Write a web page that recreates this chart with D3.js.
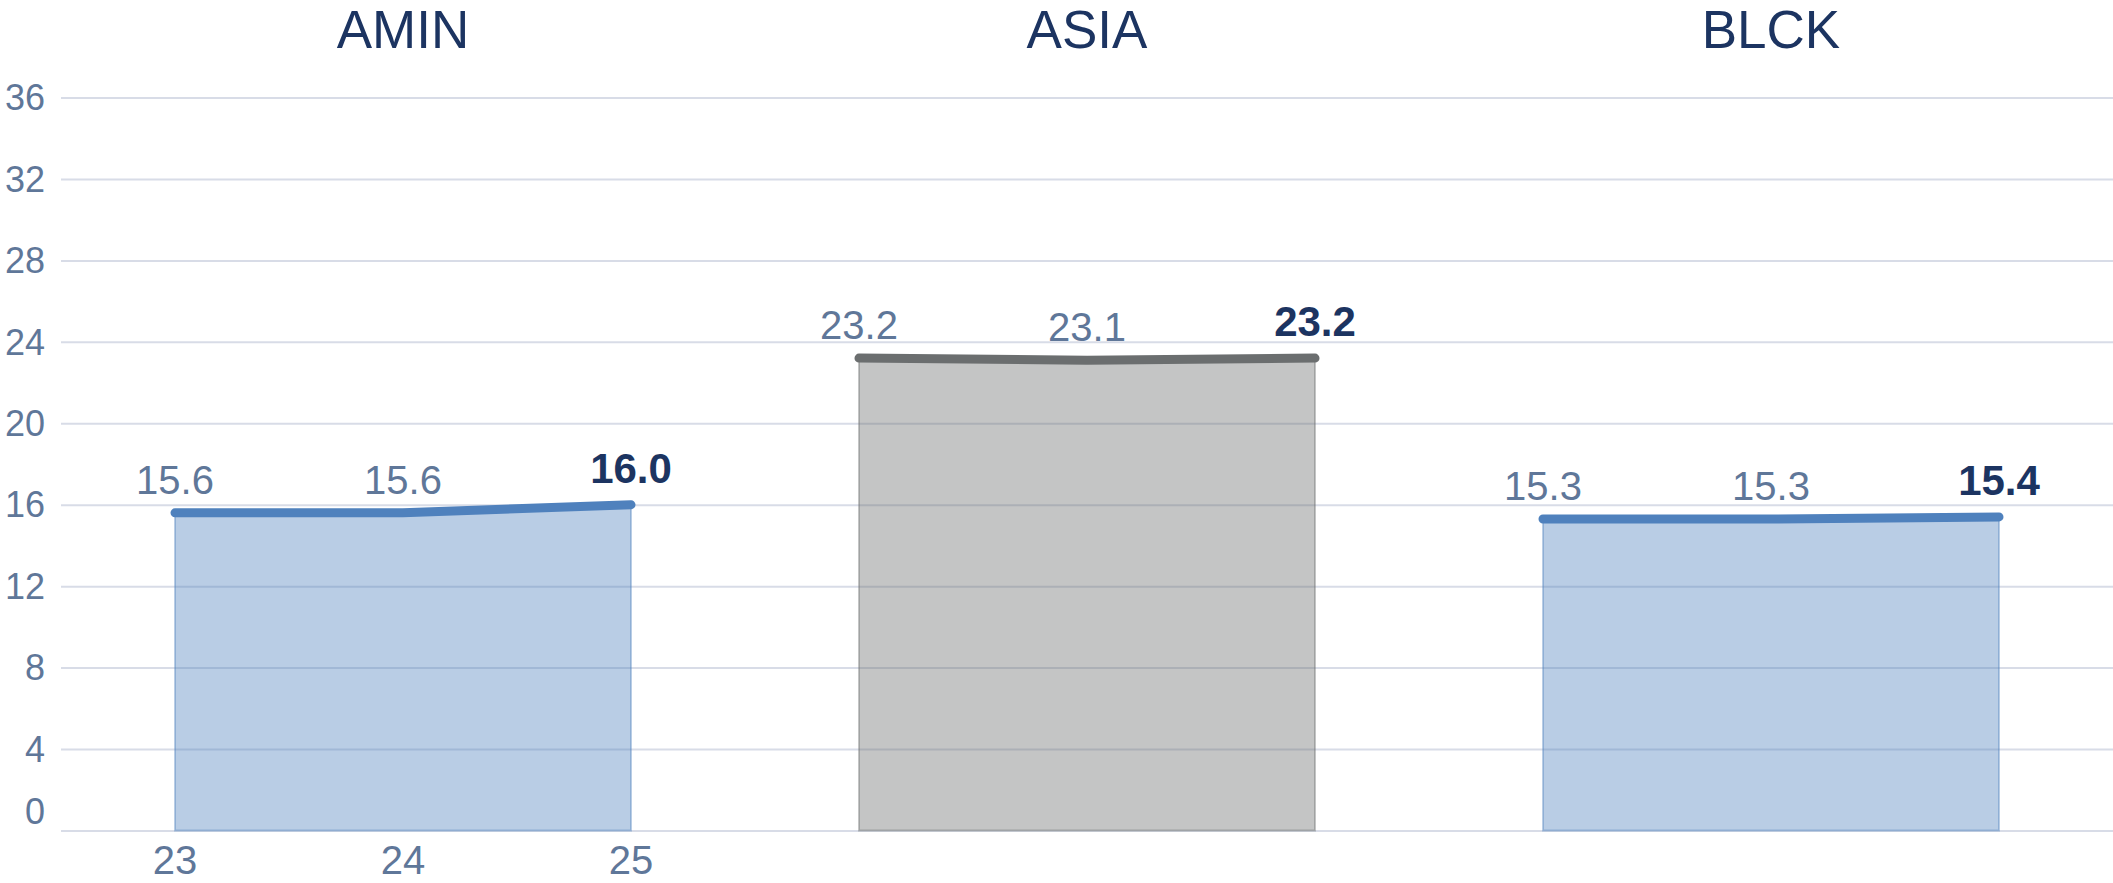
<!DOCTYPE html>
<html>
<head>
<meta charset="utf-8">
<script src="https://cdn.jsdelivr.net/npm/d3@7"></script>
<style>
  body{margin:0;background:#fff;}
  text{font-family:"Liberation Sans", Arial, sans-serif;}
</style>
</head>
<body>
<svg id="main"></svg>
<script>
//--------data----------
const panels = ['AMIN', 'ASIA', 'BLCK'];
const years = ['23', '24', '25'];
const aminValues = [15.6, 15.6, 16.0];
const asiaValues = [23.2, 23.1, 23.2];
const blckValues = [15.3, 15.3, 15.4];
const yTicks = [0, 4, 8, 12, 16, 20, 24, 28, 32, 36];

//--------code----------
let width = 2113;
let height = 883;
let margin = {left: 61, right: 0, top: 97.5, bottom: 52.5};
let svg = d3.select('#main')
  .attr('width', width)
  .attr('height', height);

let series = [aminValues, asiaValues, blckValues];
let colors = {AMIN: '#4f81bd', ASIA: '#6b6e6f', BLCK: '#4f81bd'};

let sPanel = d3.scaleBand()
  .domain(panels)
  .range([margin.left, width - margin.right]);
let sx = d3.scalePoint()
  .domain(years)
  .range([0, sPanel.bandwidth()])
  .padding(0.5);
let sy = d3.scaleLinear()
  .domain([0, 36])
  .range([height - margin.bottom, margin.top]);

// gridlines + y labels
let gy = svg.append('g')
  .attr('transform', `translate(${margin.left},0)`)
  .call(d3.axisLeft(sy).tickValues(yTicks).tickSize(-(width - margin.left - margin.right)).tickPadding(16));
gy.select('.domain').remove();
gy.selectAll('line')
  .attr('stroke', '#d8dce7')
  .attr('stroke-width', 2);
gy.selectAll('text')
  .attr('fill', '#5f7799')
  .style('font-size', '36px')
  .attr('dy', d => d === 0 ? '-0.2em' : '0.34em');

// panels
panels.forEach((p, i) => {
  let g = svg.append('g')
    .attr('transform', `translate(${sPanel(p)},0)`);
  let vals = series[i].map((v, j) => ({year: years[j], value: v, last: j === years.length - 1}));
  let c = colors[p];

  let area = d3.area()
    .x(d => sx(d.year))
    .y0(sy(0))
    .y1(d => sy(d.value));
  g.append('path')
    .datum(vals)
    .attr('d', area)
    .attr('fill', c)
    .attr('fill-opacity', 0.4)
    .attr('stroke', c)
    .attr('stroke-opacity', 0.4)
    .attr('stroke-width', 2);

  let line = d3.line()
    .x(d => sx(d.year))
    .y(d => sy(d.value));
  g.append('path')
    .datum(vals)
    .attr('d', line)
    .attr('fill', 'none')
    .attr('stroke', c)
    .attr('stroke-width', 9)
    .attr('stroke-linecap', 'round')
    .attr('stroke-linejoin', 'round');

  g.selectAll('.val')
    .data(vals)
    .join('text')
    .attr('class', 'val')
    .attr('x', d => sx(d.year))
    .attr('y', d => sy(d.value) - (d.last ? 22 : 19))
    .attr('text-anchor', 'middle')
    .attr('fill', d => d.last ? '#1c3461' : '#5f7799')
    .style('font-size', d => d.last ? '42px' : '40px')
    .style('font-weight', d => d.last ? 'bold' : 'normal')
    .text(d => d.value.toFixed(1));

  g.append('text')
    .attr('x', sPanel.bandwidth() / 2)
    .attr('y', 48)
    .attr('text-anchor', 'middle')
    .attr('fill', '#1c3461')
    .style('font-size', '53px')
    .text(p);

  // only first panel shows the year axis
  if(i === 0){
    g.selectAll('.xlab')
      .data(years)
      .join('text')
      .attr('class', 'xlab')
      .attr('x', d => sx(d))
      .attr('y', 874)
      .attr('text-anchor', 'middle')
      .attr('fill', '#5f7799')
      .style('font-size', '40px')
      .text(d => d);
  }
});
</script>
</body>
</html>
